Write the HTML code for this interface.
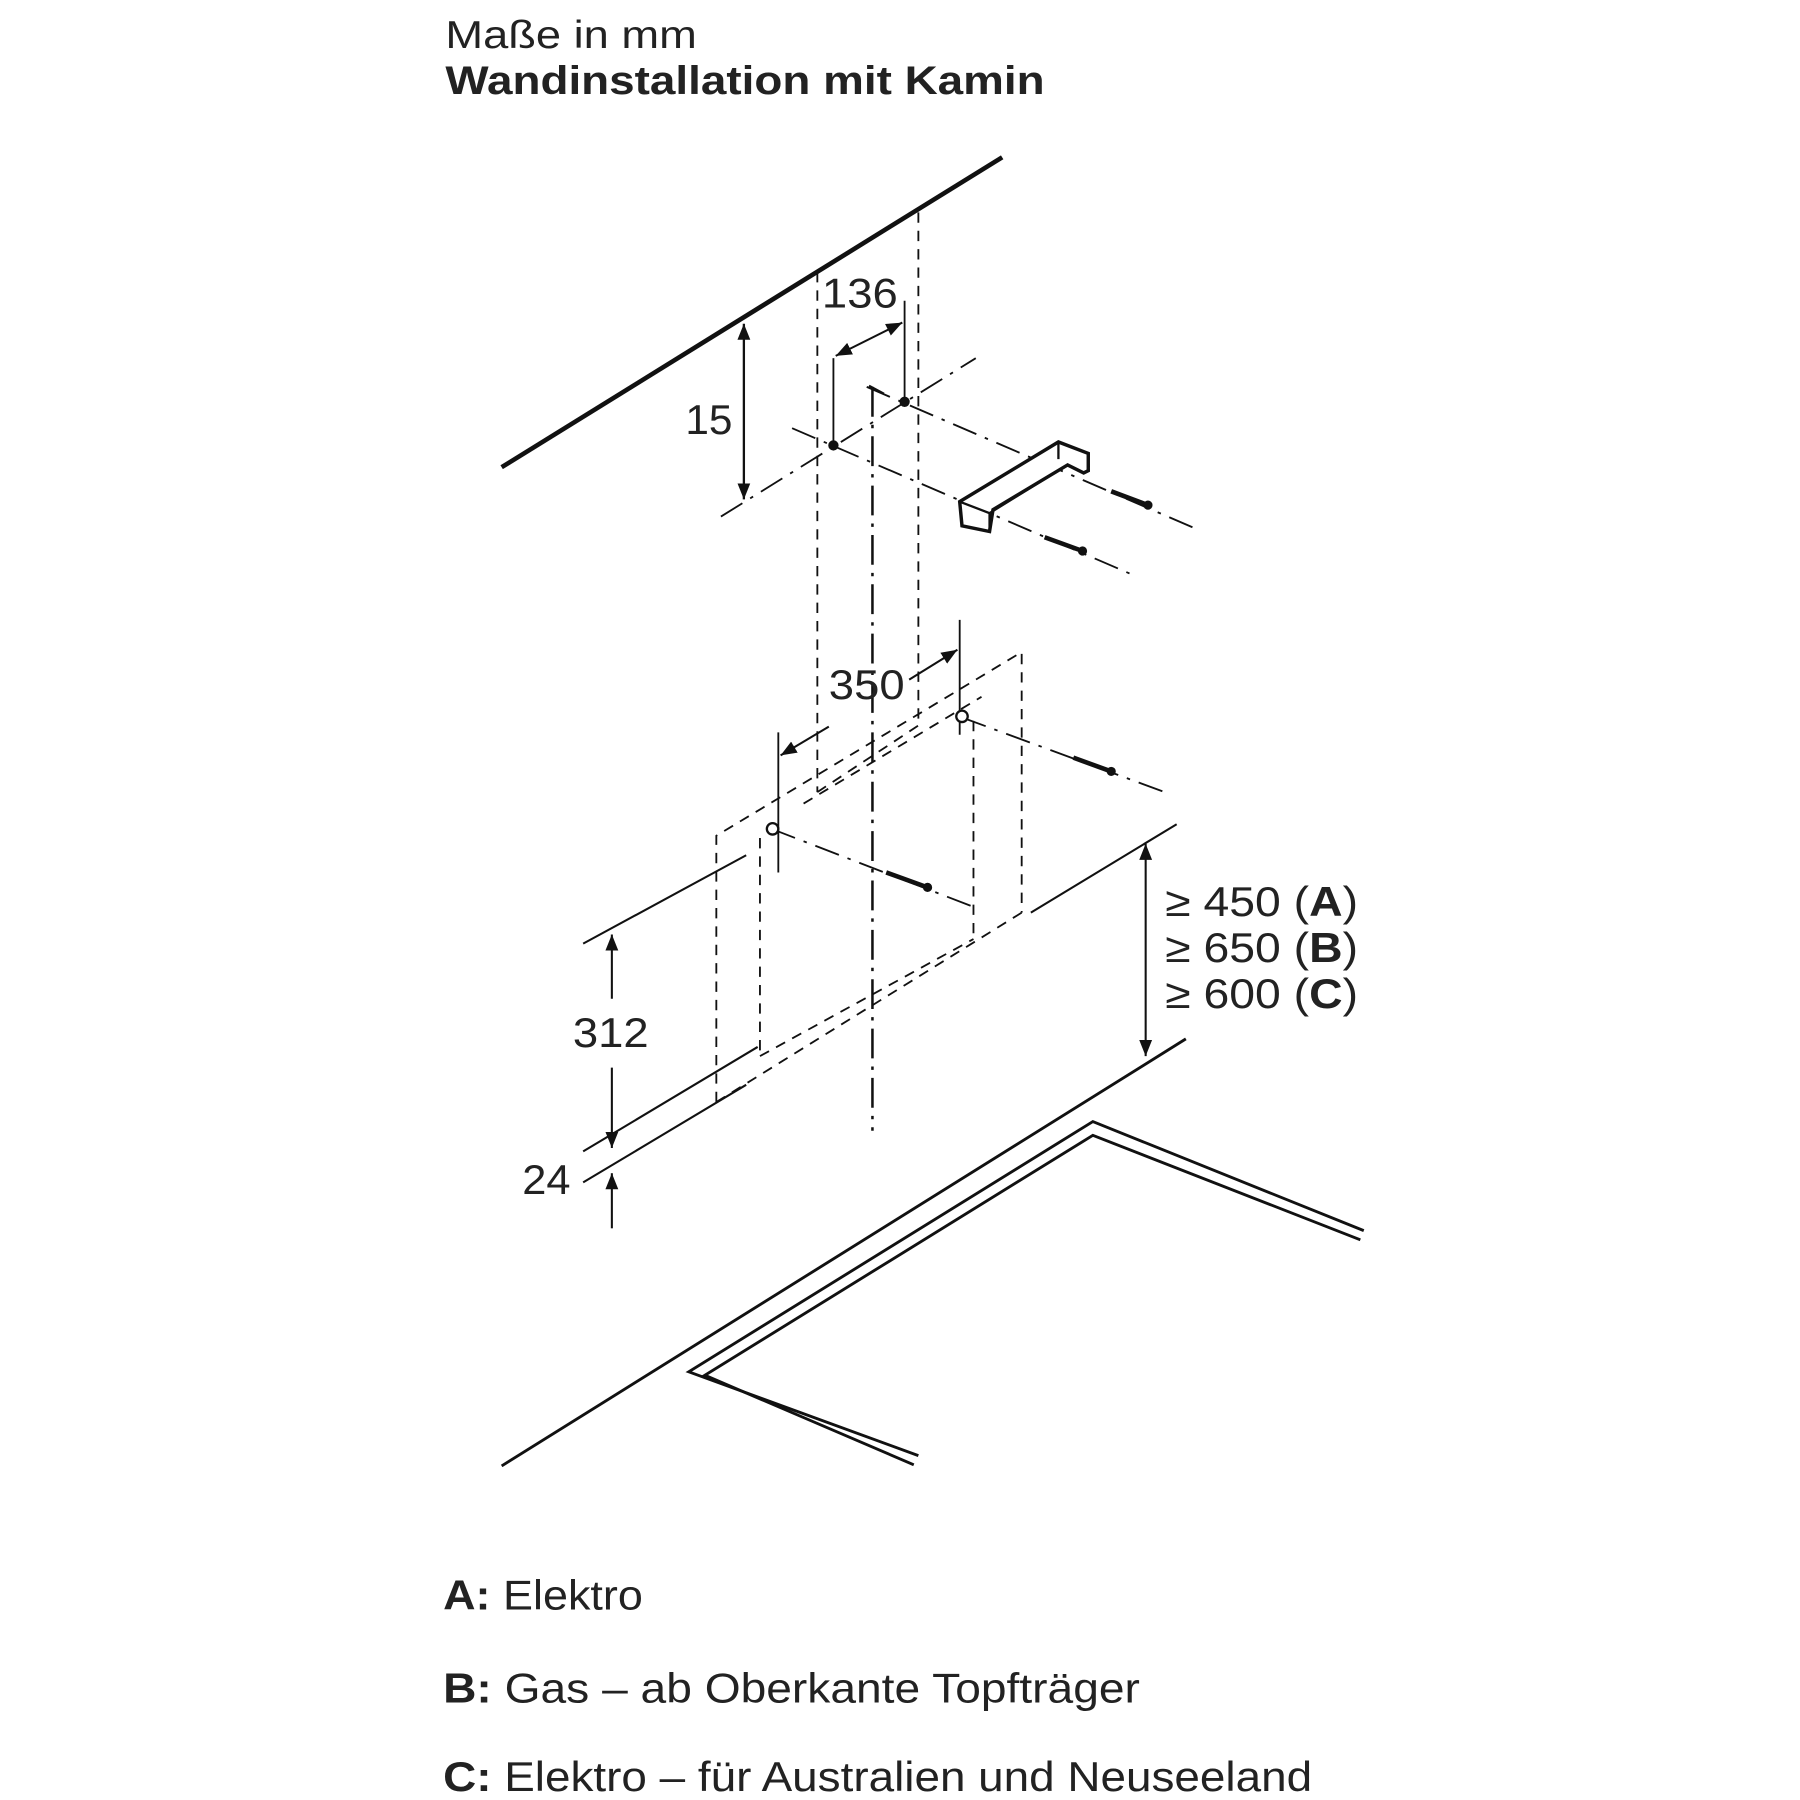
<!DOCTYPE html>
<html><head><meta charset="utf-8"><style>
html,body{margin:0;padding:0;background:#fff}
svg{display:block}
text{font-family:"Liberation Sans",sans-serif;fill:#222}
</style></head><body>
<svg width="1800" height="1800" viewBox="0 0 1568 1568" xmlns="http://www.w3.org/2000/svg">
<defs>
<marker id="a" viewBox="0 0 10 10" refX="10" refY="5" markerWidth="14" markerHeight="14" markerUnits="userSpaceOnUse" orient="auto-start-reverse"><path d="M0,1 L10,5 L0,9 z" fill="#111"/></marker>
</defs>
<text x="388" y="42" font-size="34" textLength="219" lengthAdjust="spacingAndGlyphs">Maße in mm</text>
<text x="388" y="82" font-size="35" font-weight="bold" textLength="522" lengthAdjust="spacingAndGlyphs">Wandinstallation mit Kamin</text>

<g stroke="#111" fill="none">
<line x1="437" y1="407" x2="873" y2="137" stroke-width="4"/>
<line x1="648" y1="282" x2="648" y2="435" stroke-width="2" marker-start="url(#a)" marker-end="url(#a)"/>
<g stroke-width="1.6" stroke-dasharray="22,8,3,8">
<line x1="628" y1="450" x2="850" y2="312"/>
<line x1="690" y1="373" x2="985" y2="500"/>
<line x1="755" y1="337" x2="1045" y2="462"/>
</g>
<g stroke-width="1.6" stroke-dasharray="9,7">
<line x1="712" y1="237" x2="712" y2="690"/>
<line x1="800" y1="185" x2="800" y2="632"/>
</g>
<line x1="760" y1="337" x2="760" y2="985" stroke-width="2.2" stroke-dasharray="26,7,3,7"/>
<line x1="757" y1="336" x2="770" y2="343" stroke-width="2"/>
<line x1="726" y1="312" x2="726" y2="388" stroke-width="1.6"/>
<line x1="788" y1="262" x2="788" y2="350" stroke-width="1.6"/>
<line x1="728" y1="310" x2="786" y2="281" stroke-width="1.8" marker-start="url(#a)" marker-end="url(#a)"/>
<path d="M836,437 L922,385 L948,395 L948,410 L944,412 L930,405 L865,444 L862,463 L838,458 Z" stroke-width="3" fill="#fff"/>
<path d="M836,437 L862,447 L862,463 M862,447 L930,405 M922,385 L922,400" stroke-width="2"/>
<g stroke-width="4"><line x1="968" y1="428" x2="1000" y2="440"/><line x1="910" y1="468" x2="943" y2="480"/></g>
<circle cx="1000" cy="440" r="3.5" fill="#111"/><circle cx="943" cy="480" r="3.5" fill="#111"/>
<circle cx="726" cy="388" r="4" fill="#111"/><circle cx="788" cy="350" r="4" fill="#111"/>
<line x1="836" y1="540" x2="836" y2="640" stroke-width="1.6"/>
<line x1="678" y1="638" x2="678" y2="760" stroke-width="1.6"/>
<line x1="680" y1="658" x2="722" y2="633" stroke-width="1.8" marker-start="url(#a)"/>
<line x1="792" y1="592" x2="834" y2="566" stroke-width="1.8" marker-end="url(#a)"/>
<g stroke-width="1.6" stroke-dasharray="9,7">
<path d="M624,960 L624,728 L890,568 L890,795"/>
<line x1="662" y1="730" x2="662" y2="920"/>
<line x1="848" y1="628" x2="848" y2="818"/>
<line x1="624" y1="960" x2="890" y2="795"/>
<line x1="662" y1="920" x2="848" y2="818"/>
<line x1="700" y1="700" x2="855" y2="607"/>
<line x1="712" y1="690" x2="800" y2="632"/>
</g>
<g stroke-width="1.6" stroke-dasharray="22,8,3,8">
<line x1="672" y1="722" x2="848" y2="790"/>
<line x1="838" y1="625" x2="1020" y2="692"/>
</g>
<g stroke-width="4"><line x1="772" y1="760" x2="808" y2="773"/><line x1="935" y1="660" x2="968" y2="672"/></g>
<circle cx="808" cy="773" r="3.5" fill="#111"/><circle cx="968" cy="672" r="3.5" fill="#111"/>
<circle cx="673" cy="722" r="5" stroke-width="2" fill="#fff"/><circle cx="838" cy="624" r="5" stroke-width="2" fill="#fff"/>
<g stroke-width="1.8">
<line x1="508" y1="822" x2="650" y2="745"/>
<line x1="898" y1="795" x2="1025" y2="718"/>
<line x1="508" y1="1003" x2="660" y2="912"/>
<line x1="508" y1="1030" x2="650" y2="945"/>
</g>
<line x1="533" y1="814" x2="533" y2="870" stroke-width="1.8" marker-start="url(#a)"/>
<line x1="533" y1="930" x2="533" y2="1000" stroke-width="1.8" marker-end="url(#a)"/>
<line x1="533" y1="1070" x2="533" y2="1022" stroke-width="1.8" marker-end="url(#a)"/>
<line x1="998" y1="735" x2="998" y2="920" stroke-width="1.8" marker-start="url(#a)" marker-end="url(#a)"/>
<line x1="437" y1="1277" x2="1033" y2="905" stroke-width="2.5"/>
<path d="M800,1268 L600,1195 L952,977 L1188,1072" stroke-width="2.5"/>
<path d="M796,1276 L614,1198 L952,989 L1185,1080" stroke-width="2.5"/>
</g>

<text x="597" y="378" font-size="36" textLength="41" lengthAdjust="spacingAndGlyphs">15</text>
<text x="716" y="268" font-size="36" textLength="66" lengthAdjust="spacingAndGlyphs">136</text>
<text x="722" y="609" font-size="36" textLength="66" lengthAdjust="spacingAndGlyphs">350</text>
<text x="499" y="912" font-size="36" textLength="66" lengthAdjust="spacingAndGlyphs">312</text>
<text x="455" y="1040" font-size="36" textLength="42" lengthAdjust="spacingAndGlyphs">24</text>
<text x="1015" y="798" font-size="36" textLength="168" lengthAdjust="spacingAndGlyphs">≥ 450 (<tspan font-weight="bold">A</tspan>)</text>
<text x="1015" y="838" font-size="36" textLength="168" lengthAdjust="spacingAndGlyphs">≥ 650 (<tspan font-weight="bold">B</tspan>)</text>
<text x="1015" y="878" font-size="36" textLength="168" lengthAdjust="spacingAndGlyphs">≥ 600 (<tspan font-weight="bold">C</tspan>)</text>

<text x="386" y="1402" font-size="36" textLength="174" lengthAdjust="spacingAndGlyphs"><tspan font-weight="bold">A:</tspan> Elektro</text>
<text x="386" y="1483" font-size="36" textLength="607" lengthAdjust="spacingAndGlyphs"><tspan font-weight="bold">B:</tspan> Gas – ab Oberkante Topfträger</text>
<text x="386" y="1560" font-size="36" textLength="757" lengthAdjust="spacingAndGlyphs"><tspan font-weight="bold">C:</tspan> Elektro – für Australien und Neuseeland</text>
</svg>
</body></html>
